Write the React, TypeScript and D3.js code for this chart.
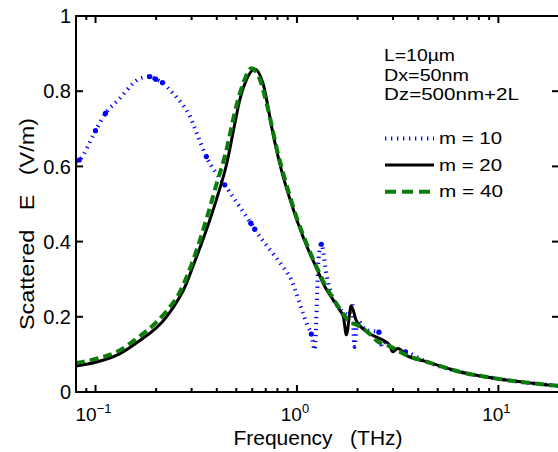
import React from 'react';
import * as d3 from 'd3';

// ---------- data ----------
const xDomain: [number, number] = [0.08, 20];
const yDomain: [number, number] = [0, 1];

const yTickValues = [0, 0.2, 0.4, 0.6, 0.8, 1];
const yTickLabels = ['0', '0.2', '0.4', '0.6', '0.8', '1'];
const xMajorTicks = [0.1, 1, 10];
const xMajorExponents = ['\u22121', '0', '1'];
const xMinorTicks = [0.09, 0.2, 0.3, 0.4, 0.5, 0.6, 0.7, 0.8, 0.9, 2, 3, 4, 5, 6, 7, 8, 9, 20];

// m = 20 (black solid)
const freqM20 = [0.08, 0.1, 0.13, 0.16, 0.225, 0.283, 0.305, 0.36, 0.4, 0.447, 0.49, 0.52, 0.561, 0.617, 0.678, 0.76, 0.82, 1.0, 1.156, 1.25, 1.35, 1.63, 1.7, 1.76, 1.86, 1.97, 2.29, 2.67, 2.88, 2.99, 3.17, 3.49, 4.38, 6.4, 9.7, 20];
const valM20 = [0.069, 0.079, 0.1, 0.131, 0.2, 0.289, 0.335, 0.44, 0.515, 0.605, 0.71, 0.777, 0.83, 0.859, 0.821, 0.688, 0.609, 0.457, 0.37, 0.33, 0.289, 0.218, 0.2, 0.152, 0.229, 0.19, 0.156, 0.138, 0.125, 0.107, 0.116, 0.098, 0.081, 0.054, 0.036, 0.016];

// m = 40 (green dashed)
const freqM40 = [0.08, 0.1, 0.13, 0.16, 0.2, 0.225, 0.26, 0.283, 0.305, 0.36, 0.4, 0.44, 0.5, 0.54, 0.594, 0.65, 0.72, 0.8, 0.9, 1.0, 1.156, 1.35, 1.63, 1.79, 2.04, 2.29, 2.52, 2.88, 3.49, 4.38, 6.4, 9.7, 20];
const valM40 = [0.077, 0.088, 0.109, 0.142, 0.185, 0.215, 0.262, 0.305, 0.35, 0.47, 0.555, 0.63, 0.76, 0.82, 0.861, 0.835, 0.75, 0.64, 0.54, 0.462, 0.375, 0.295, 0.222, 0.191, 0.175, 0.155, 0.134, 0.122, 0.098, 0.081, 0.054, 0.036, 0.016];

// m = 10 (blue dotted)
const freqM10 = [0.08, 0.083, 0.1, 0.112, 0.132, 0.154, 0.166, 0.186, 0.199, 0.215, 0.234, 0.252, 0.272, 0.294, 0.323, 0.355, 0.438, 0.59, 0.617, 0.852, 0.92, 1.134, 1.179, 1.224, 1.281, 1.321, 1.404, 1.503, 1.628, 1.82, 1.88, 1.93, 2.0, 2.2, 2.551, 2.65, 2.75, 3.0, 3.46, 4.38, 6.4, 9.7, 20];
const valM10 = [0.612, 0.617, 0.695, 0.741, 0.781, 0.821, 0.834, 0.839, 0.832, 0.823, 0.803, 0.785, 0.763, 0.734, 0.679, 0.626, 0.551, 0.449, 0.433, 0.333, 0.307, 0.174, 0.154, 0.112, 0.356, 0.393, 0.31, 0.25, 0.222, 0.205, 0.237, 0.12, 0.19, 0.165, 0.159, 0.12, 0.13, 0.115, 0.107, 0.081, 0.054, 0.036, 0.016];

// m = 10 sample markers
const markerFreqM10 = [0.083, 0.1, 0.112, 0.186, 0.199, 0.215, 0.355, 0.438, 0.59, 0.617, 1.179, 1.321, 2.551, 3.46];
const markerValM10 = [0.617, 0.695, 0.741, 0.839, 0.832, 0.823, 0.626, 0.551, 0.449, 0.433, 0.154, 0.393, 0.159, 0.107];

const infoLines = ['L=10\u00b5m', 'Dx=50nm', 'Dz=500nm+2L'];
const infoWidths = [71, 85, 135];
const seriesLabels = ['m = 10', 'm = 20', 'm = 40'];
const seriesLabelWidths = [63, 63, 64];

// ---------- layout ----------
const W = 558, H = 452;
const left = 76, right = 559, top = 16, bottom = 392;
const BLUE = '#0000ff', GREEN = '#0b7d0b', BLACK = '#000000';
const FONT = '"Liberation Sans", Arial, Helvetica, sans-serif';

export default function App() {
  const x = d3.scaleLog().domain(xDomain).range([left, right]);
  const y = d3.scaleLinear().domain(yDomain).range([bottom, top]);

  const mk = (fs: number[], vs: number[]) => fs.map((f, i) => [f, vs[i]] as [number, number]);
  const line = d3.line<[number, number]>().x(d => x(d[0])).y(d => y(d[1])).curve(d3.curveMonotoneX);

  const dM20 = line(mk(freqM20, valM20)) || '';
  const dM40 = line(mk(freqM40, valM40)) || '';
  const dM10 = line(mk(freqM10, valM10)) || '';
  const markers = mk(markerFreqM10, markerValM10);

  const major = 7, minor = 4;

  return (
    <svg width={W} height={H} style={{ position: 'absolute', left: 0, top: 0, background: '#fff' }} fontFamily={FONT}>
      <rect x={0} y={0} width={W} height={H} fill="#fff" />
      <defs>
        <clipPath id="plotClip">
          <rect x={left} y={top} width={right - left} height={bottom - top} />
        </clipPath>
      </defs>

      {/* data */}
      <g clipPath="url(#plotClip)">
        <path d={dM10} fill="none" stroke={BLUE} strokeWidth={4} strokeDasharray="1.3 4.7" />
        {markers.map((p, i) => (
          <circle key={i} cx={x(p[0])} cy={y(p[1])} r={2.6} fill={BLUE} />
        ))}
        <path d={dM20} fill="none" stroke={BLACK} strokeWidth={3} strokeLinejoin="round" />
        <path d={dM40} fill="none" stroke={GREEN} strokeWidth={4} strokeDasharray="9 5" />
      </g>

      {/* frame */}
      <rect x={left} y={top} width={right - left} height={bottom - top} fill="none" stroke="#000" strokeWidth={2} />

      {/* y ticks */}
      {yTickValues.map((v, i) => (
        <g key={'y' + i}>
          <line x1={left} x2={left + major} y1={y(v)} y2={y(v)} stroke="#000" strokeWidth={2} />
          <line x1={right} x2={right - major} y1={y(v)} y2={y(v)} stroke="#000" strokeWidth={2} />
          <text x={left - 5} y={y(v)} dy="0.36em" textAnchor="end" fontSize={20}>{yTickLabels[i]}</text>
        </g>
      ))}

      {/* x ticks */}
      {xMajorTicks.map((v, i) => (
        <g key={'xm' + i}>
          <line x1={x(v)} x2={x(v)} y1={bottom} y2={bottom - major} stroke="#000" strokeWidth={2} />
          <line x1={x(v)} x2={x(v)} y1={top} y2={top + major} stroke="#000" strokeWidth={2} />
          <text x={x(v) - 2} y={421} textAnchor="middle" fontSize={19}>
            10<tspan dy={-8} fontSize={13}>{xMajorExponents[i]}</tspan>
          </text>
        </g>
      ))}
      {xMinorTicks.map((v, i) => (
        <g key={'xn' + i}>
          <line x1={x(v)} x2={x(v)} y1={bottom} y2={bottom - minor} stroke="#000" strokeWidth={2} />
          <line x1={x(v)} x2={x(v)} y1={top} y2={top + minor} stroke="#000" strokeWidth={2} />
        </g>
      ))}

      {/* axis labels */}
      <text x={318} y={445} textAnchor="middle" fontSize={21} xmlSpace="preserve">Frequency   (THz)</text>
      <text transform={`translate(34, 224) rotate(-90)`} textAnchor="middle" fontSize={20} xmlSpace="preserve"
        textLength={212} lengthAdjust="spacingAndGlyphs">Scattered   E   (V/m)</text>

      {/* annotation */}
      {infoLines.map((t, i) => (
        <text key={'info' + i} x={384} y={61 + i * 19.5} fontSize={16.5}
          textLength={infoWidths[i]} lengthAdjust="spacingAndGlyphs">{t}</text>
      ))}

      {/* legend */}
      <line x1={385} x2={434} y1={138.5} y2={138.5} stroke={BLUE} strokeWidth={4} strokeDasharray="1.3 4.7" />
      <line x1={385} x2={434} y1={165} y2={165} stroke={BLACK} strokeWidth={3} />
      <line x1={385} x2={434} y1={191.7} y2={191.7} stroke={GREEN} strokeWidth={4} strokeDasharray="11 6" />
      {seriesLabels.map((t, i) => (
        <text key={'lg' + i} x={439} y={144 + i * 26.6} fontSize={16.5} xmlSpace="preserve"
          textLength={seriesLabelWidths[i]} lengthAdjust="spacingAndGlyphs">{t}</text>
      ))}
    </svg>
  );
}
